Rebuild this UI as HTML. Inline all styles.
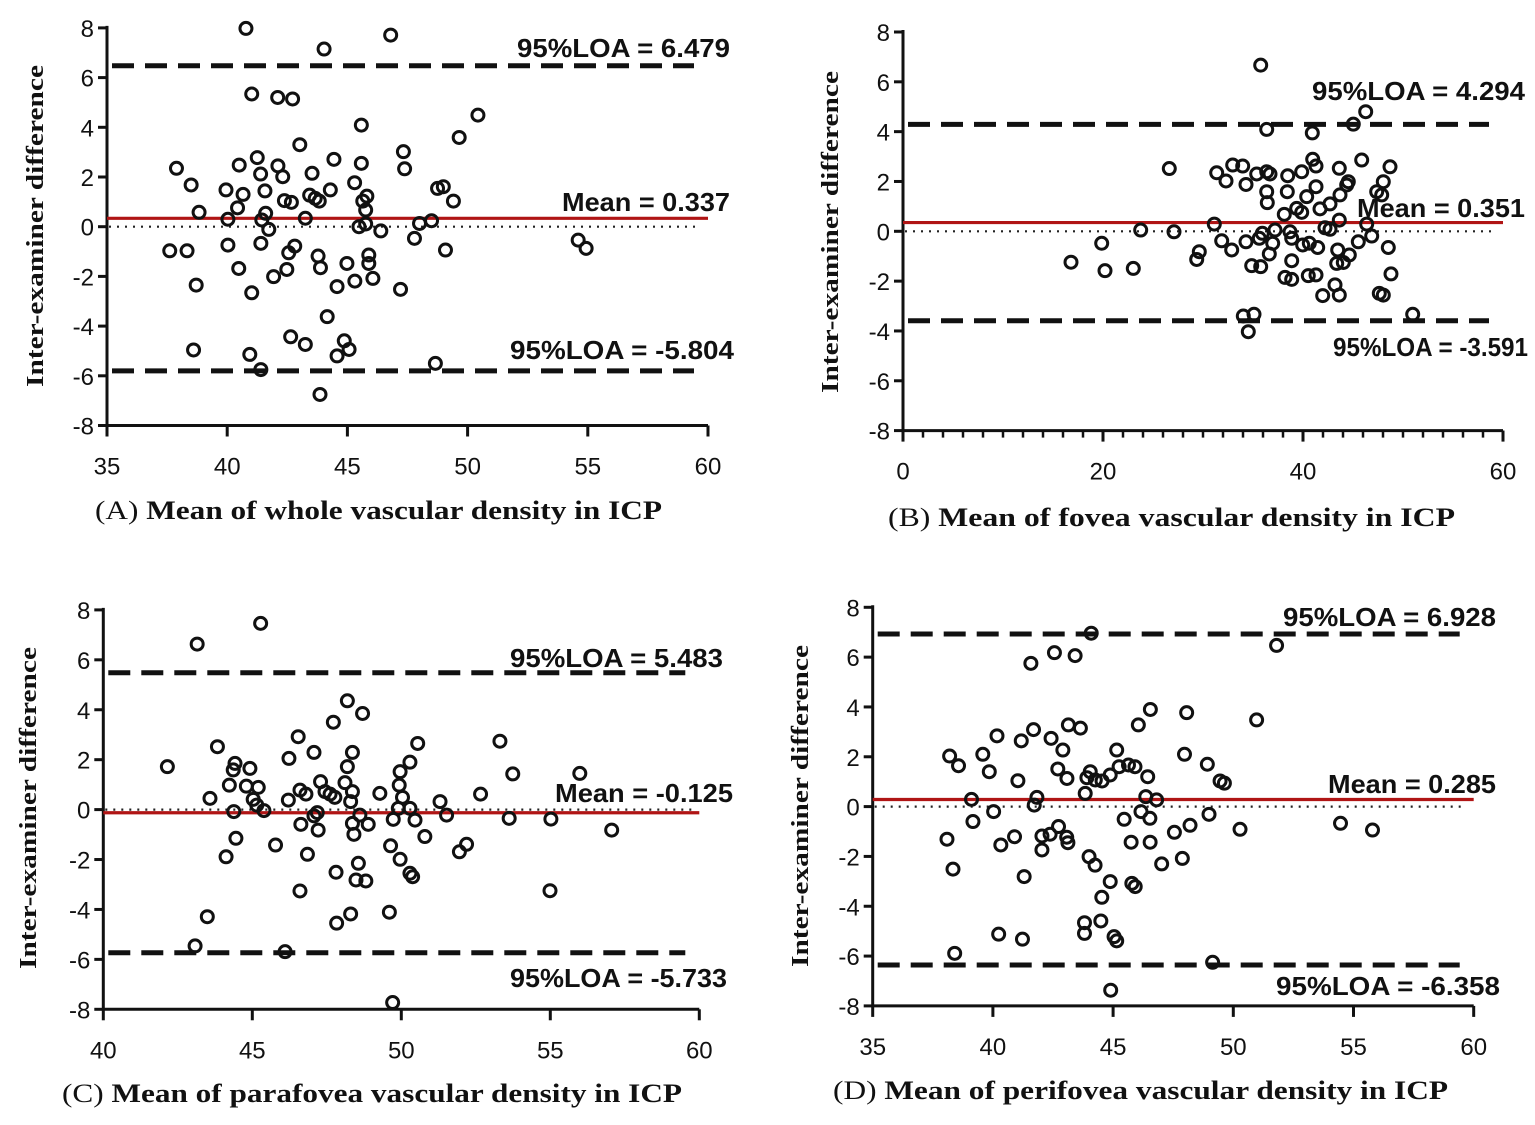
<!DOCTYPE html>
<html><head><meta charset="utf-8"><style>
html,body{margin:0;padding:0;background:#fff}
svg{display:block}
.tk{font-family:"Liberation Sans",Arial,sans-serif;font-size:24px;fill:#111}
.lb{font-family:"Liberation Sans",Arial,sans-serif;font-size:26px;font-weight:bold;fill:#111}
.yt{font-family:"Liberation Serif","Times New Roman",serif;font-size:24px;font-weight:bold;fill:#111}
.xt{font-family:"Liberation Serif","Times New Roman",serif;font-size:26px;fill:#111}
</style></head><body>
<svg id="chart" width="1535" height="1125" viewBox="0 0 1535 1125" xmlns="http://www.w3.org/2000/svg"></svg>
<script>
// Panel A data
const aX=[40.78,46.80,44.03,41.02,42.10,42.72,50.43,49.65,45.58,43.02,47.33,47.38,37.89,38.50,38.83,40.50,41.25,41.39,42.11,42.31,43.53,44.44,45.58,45.30,39.95,40.66,41.57,40.43,42.38,42.67,43.43,43.66,43.83,44.29,45.64,45.81,45.76,48.75,48.99,49.41,40.03,41.44,41.60,43.25,45.48,45.76,46.39,48.00,48.50,41.73,37.61,38.33,40.03,41.40,42.56,42.81,47.79,49.08,54.60,54.93,40.48,42.48,41.93,43.78,43.88,44.98,45.89,45.89,46.06,45.31,44.57,47.21,38.71,41.02,44.16,38.60,40.94,42.64,43.25,44.87,45.07,44.57,48.66,41.40,43.86];
const aY=[7.98,7.71,7.15,5.34,5.20,5.14,4.49,3.59,4.09,3.30,3.02,2.33,2.35,1.68,0.58,2.48,2.78,2.12,2.45,2.01,2.15,2.71,2.55,1.77,1.48,1.30,1.44,0.76,1.05,0.98,1.27,1.14,1.03,1.48,1.03,1.23,0.67,1.54,1.61,1.03,0.30,0.27,0.54,0.34,0.00,0.11,-0.17,0.13,0.24,-0.11,-0.97,-0.97,-0.74,-0.67,-1.05,-0.78,-0.47,-0.94,-0.54,-0.87,-1.68,-1.72,-2.01,-1.18,-1.65,-1.48,-1.14,-1.48,-2.08,-2.19,-2.41,-2.52,-2.35,-2.66,-3.62,-4.96,-5.14,-4.43,-4.74,-4.59,-4.94,-5.20,-5.50,-5.75,-6.75];
const aStats=[6.479,0.337,-5.804];
// Panel B data
const bX=[35.77,46.27,45.03,36.37,40.93,45.87,48.70,26.63,31.37,32.97,33.97,32.30,34.30,35.37,36.37,36.70,38.47,39.87,40.97,41.30,43.63,44.53,44.37,48.03,47.37,47.87,36.37,36.43,38.43,41.30,40.37,43.70,42.70,41.70,39.37,39.87,38.13,43.63,31.13,46.37,42.20,42.70,23.77,27.10,37.20,38.70,35.93,46.87,19.87,31.87,32.87,34.30,35.63,36.97,38.87,39.97,40.63,41.47,45.53,48.53,43.47,29.63,29.37,36.63,44.63,38.87,43.37,44.03,34.87,35.77,20.20,23.03,48.80,38.20,38.87,40.53,41.30,43.20,41.97,43.63,47.63,48.03,34.03,35.10,34.53,50.97,16.80];
const bY=[6.67,4.80,4.30,4.09,3.95,2.86,2.59,2.52,2.35,2.66,2.62,2.02,1.88,2.30,2.39,2.30,2.23,2.39,2.89,2.62,2.53,1.99,1.86,1.99,1.59,1.46,1.59,1.15,1.59,1.79,1.39,1.46,1.10,0.90,0.92,0.76,0.68,0.45,0.29,0.29,0.14,0.08,0.05,-0.02,0.05,-0.02,-0.08,-0.19,-0.48,-0.38,-0.75,-0.42,-0.28,-0.48,-0.28,-0.55,-0.48,-0.65,-0.42,-0.65,-0.75,-0.82,-1.13,-0.91,-0.95,-1.18,-1.29,-1.25,-1.38,-1.42,-1.58,-1.49,-1.71,-1.85,-1.93,-1.78,-1.75,-2.15,-2.58,-2.56,-2.49,-2.56,-3.40,-3.33,-4.03,-3.33,-1.24];
const bStats=[4.294,0.351,-3.591];
// Panel C data
const cX=[45.28,43.15,48.19,48.70,47.72,46.54,43.83,50.55,53.31,42.15,46.23,47.07,48.36,44.42,44.36,44.92,48.19,50.29,49.96,53.74,55.99,44.23,44.80,45.20,43.58,45.03,45.15,46.60,46.80,46.21,47.29,47.44,47.61,47.77,48.11,48.36,48.30,49.28,49.93,50.04,49.90,50.29,51.30,52.66,44.38,45.39,47.18,47.07,48.61,51.52,49.73,50.46,53.62,55.02,57.06,46.63,47.21,48.36,48.89,48.41,44.45,50.79,45.78,46.85,44.12,49.64,49.96,52.19,51.95,48.56,47.81,48.48,48.81,50.29,50.38,46.60,54.99,43.49,48.30,47.83,49.60,43.08,46.10,49.71];
const cY=[7.46,6.63,4.36,3.85,3.50,2.92,2.52,2.65,2.74,1.72,2.05,2.29,2.29,1.85,1.59,1.65,1.72,1.90,1.52,1.43,1.45,0.98,0.94,0.89,0.45,0.41,0.18,0.78,0.62,0.38,1.12,0.72,0.62,0.49,1.08,0.72,0.32,0.65,0.98,0.49,0.05,0.05,0.32,0.62,-0.08,-0.04,-0.12,-0.25,-0.22,-0.22,-0.39,-0.42,-0.35,-0.38,-0.82,-0.59,-0.82,-0.55,-0.59,-0.99,-1.15,-1.08,-1.42,-1.79,-1.89,-1.45,-1.99,-1.39,-1.69,-2.15,-2.51,-2.82,-2.86,-2.55,-2.69,-3.26,-3.25,-4.29,-4.18,-4.55,-4.11,-5.46,-5.69,-7.73];
const cStats=[5.483,-0.125,-5.733];
// Panel D data
const dX=[44.09,51.80,41.58,42.56,43.42,46.55,48.06,50.97,46.05,43.14,43.64,41.69,40.17,41.18,42.42,42.91,45.15,38.20,38.57,39.58,39.85,47.97,48.92,42.70,43.08,44.05,43.91,44.26,44.54,44.88,45.25,45.64,45.91,46.44,41.04,49.45,49.63,43.84,39.11,41.83,41.72,46.36,46.81,40.03,39.17,46.16,46.53,45.46,48.99,48.20,47.55,50.28,54.46,55.79,38.09,40.90,40.33,42.04,42.38,42.73,43.07,43.12,42.04,45.75,46.54,38.34,44.00,44.25,47.02,47.88,41.30,44.88,45.78,45.92,44.53,43.81,43.81,44.49,40.24,41.23,45.04,45.15,38.41,49.14,44.90];
const dY=[6.96,6.47,5.75,6.18,6.06,3.90,3.77,3.48,3.28,3.28,3.15,3.09,2.84,2.64,2.74,2.27,2.27,2.03,1.64,2.10,1.40,2.10,1.70,1.51,1.13,1.40,1.16,1.07,1.03,1.27,1.60,1.67,1.60,1.20,1.04,1.03,0.94,0.53,0.29,0.37,0.06,0.40,0.27,-0.20,-0.60,-0.20,-0.47,-0.51,-0.31,-0.75,-1.03,-0.91,-0.67,-0.94,-1.31,-1.21,-1.54,-1.18,-1.11,-0.80,-1.23,-1.45,-1.74,-1.43,-1.43,-2.51,-2.01,-2.35,-2.30,-2.08,-2.81,-3.01,-3.08,-3.21,-3.64,-4.66,-5.09,-4.59,-5.12,-5.32,-5.22,-5.39,-5.89,-6.25,-7.37];
const dStats=[6.928,0.285,-6.358];

const yTicks=[8,6,4,2,0,-2,-4,-6,-8];
const aXTicks=[35,40,45,50,55,60];
const bXTicks=[0,20,40,60];
const cXTicks=[40,45,50,55,60];
const dXTicks=[35,40,45,50,55,60];

const NS='http://www.w3.org/2000/svg';
const svg=document.getElementById('chart');
function mk(tag,attrs,parent,text){const e=document.createElementNS(NS,tag);for(const k in attrs)e.setAttribute(k,attrs[k]);if(text!==undefined)e.textContent=text;(parent||svg).appendChild(e);return e;}

function panel(id,cfg,xs,ys,stats,xticks){
  const g=mk('g',{});
  
  
  const sx=v=>cfg.L+(v-cfg.x0)/(cfg.x1-cfg.x0)*(cfg.R-cfg.L);
  const sy=v=>cfg.T+(8-v)/16*(cfg.B-cfg.T);
  const ax=mk('path',{d:`M${cfg.L},${cfg.T-2} V${cfg.B} H${cfg.R}`,fill:'none',stroke:'#111','stroke-width':3},g);
  
  
  yTicks.forEach(t=>{
    mk('line',{x1:cfg.L-9,x2:cfg.L,y1:sy(t),y2:sy(t),stroke:'#111','stroke-width':3},g);
    const tl=mk('text',{x:cfg.L-13,y:sy(t)+9,'text-anchor':'end',class:'tk'},g,String(t));
    
    
  });
  if(cfg.minor){for(let v=cfg.x0;v<=cfg.x1;v+=cfg.minor){mk('line',{x1:sx(v),x2:sx(v),y1:cfg.B,y2:cfg.B+7,stroke:'#111','stroke-width':2.5},g);}}
  xticks.forEach(t=>{
    mk('line',{x1:sx(t),x2:sx(t),y1:cfg.B,y2:cfg.B+11,stroke:'#111','stroke-width':3},g);
    const tl=mk('text',{x:sx(t),y:cfg.B+49,'text-anchor':'middle',class:'tk'},g,String(t));
    
    
  });
  const z=mk('line',{x1:cfg.L+2,x2:cfg.R-8,y1:sy(0),y2:sy(0),stroke:'#222','stroke-width':2.2,'stroke-dasharray':'2 6'},g);
  
  
  [stats[0],stats[2]].forEach((v,i)=>{
    const l=mk('line',{x1:cfg.L+5,x2:cfg.R-14,y1:sy(v),y2:sy(v),stroke:'#111','stroke-width':5,'stroke-dasharray':'22 11'},g);
    
    
  });
  const m=mk('line',{x1:cfg.L,x2:cfg.R,y1:sy(stats[1]),y2:sy(stats[1]),stroke:'#b01515','stroke-width':3.2},g);
  
  
  xs.forEach((x,i)=>{
    const c=mk('circle',{cx:sx(x),cy:sy(ys[i]),r:6,fill:'none',stroke:'#111','stroke-width':3},g);
    
    
  });
  cfg.labels.forEach((lb,i)=>{
    const txt=['95%LOA = '+stats[0].toFixed(3),'Mean = '+stats[1].toFixed(3),'95%LOA = '+stats[2].toFixed(3)][i];
    const t=mk('text',{x:lb[0],y:lb[1]+1,class:'lb',textLength:lb[2],lengthAdjust:'spacingAndGlyphs'},g,txt);
    
    
  });
  const yt=mk('text',{x:0,y:0,class:'yt','text-anchor':'middle',transform:`translate(${cfg.yt[0]},${cfg.yt[1]}) rotate(-90)`,textLength:322,lengthAdjust:'spacingAndGlyphs'},g,'Inter-examiner difference');
  
  
  const xt=mk('text',{x:cfg.xt[0],y:cfg.xt[1],class:'xt',textLength:cfg.xt[2],lengthAdjust:'spacingAndGlyphs'},g);
  
  
  mk('tspan',{},xt,'('+id+')  ');
  mk('tspan',{'font-weight':'bold'},xt,cfg.title);
}

panel('A',{L:107,R:708,T:27.9,B:425.5,x0:35,x1:60,labels:[[517,56,213],[562,210,168],[510,358,224]],yt:[43,226],xt:[95,519,567],title:'Mean of  whole vascular density in ICP'},aX,aY,aStats,aXTicks);
panel('B',{L:903,R:1503,T:32,B:430.6,x0:0,x1:60,minor:2,labels:[[1312,99,213],[1357,216,168],[1333,355,195]],yt:[838,232],xt:[888,526,567],title:'Mean of  fovea vascular density in ICP'},bX,bY,bStats,bXTicks);
panel('C',{L:103.3,R:699.3,T:609.9,B:1009.3,x0:40,x1:60,labels:[[510,666,213],[555,801,178],[510,986,217]],yt:[36,808],xt:[62,1102,620],title:'Mean of  parafovea vascular density in ICP'},cX,cY,cStats,cXTicks);
panel('D',{L:872.7,R:1473.7,T:607.3,B:1005.9,x0:35,x1:60,labels:[[1283,625,213],[1328,792,168],[1276,994,224]],yt:[808,806],xt:[833,1099,615],title:'Mean of  perifovea vascular density in ICP'},dX,dY,dStats,dXTicks);
</script>
</body></html>
